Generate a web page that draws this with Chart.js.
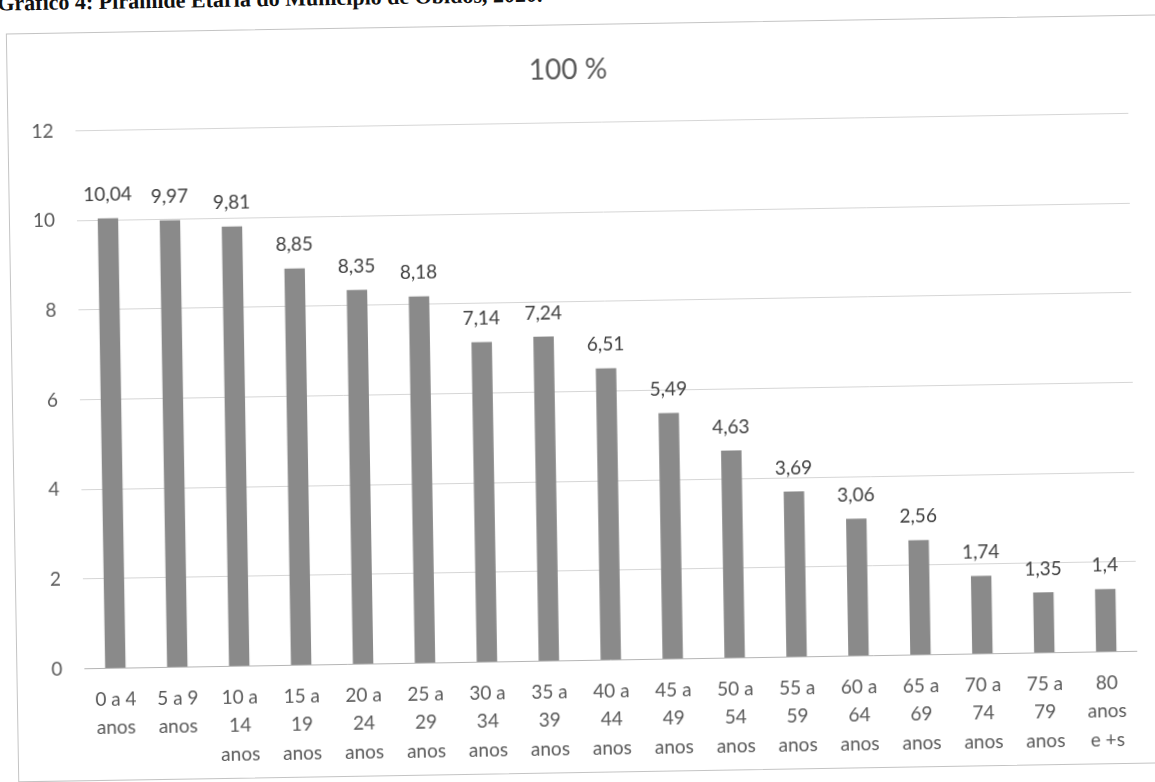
<!DOCTYPE html>
<html>
<head>
<meta charset="utf-8">
<script src="https://cdn.jsdelivr.net/npm/chart.js@4.4.0/dist/chart.umd.min.js"></script>
<style>
  body { margin: 0; background: #fff; width: 1155px; height: 782px; overflow: hidden; position: relative; }
  /* a página digitalizada está ligeiramente inclinada */
  #page { position: absolute; left: 0; top: 0; width: 1155px; height: 782px; transform: rotate(-0.95deg); transform-origin: 580px 400px; }
  #caption { position: absolute; left: 4px; top: -19px; font-family: "Liberation Serif", serif; font-weight: bold; font-size: 22px; color: #111; white-space: nowrap; }
  #box { position: absolute; left: 12px; top: 24px; width: 1160px; height: 749px; border: 1px solid #c4c4c4; box-sizing: border-box; }
  canvas { display: block; }
</style>
</head>
<body>
<div id="page">
  <div id="caption">Gráfico 4: Pirâmide Etária do Município de Óbidos, 2020.</div>
  <div id="box"><canvas id="chart" width="1158" height="747"></canvas></div>
</div>
<script>
// faixas etárias
const categories = [
    ["0 a 4", "anos"], ["5 a 9", "anos"], ["10 a", "14", "anos"], ["15 a", "19", "anos"],
    ["20 a", "24", "anos"], ["25 a", "29", "anos"], ["30 a", "34", "anos"], ["35 a", "39", "anos"],
    ["40 a", "44", "anos"], ["45 a", "49", "anos"], ["50 a", "54", "anos"], ["55 a", "59", "anos"],
    ["60 a", "64", "anos"], ["65 a", "69", "anos"], ["70 a", "74", "anos"], ["75 a", "79", "anos"],
    ["80", "anos", "e +s"]
];
const percentages = [10.04, 9.97, 9.81, 8.85, 8.35, 8.18, 7.14, 7.24, 6.51, 5.49, 4.63, 3.69, 3.06, 2.56, 1.74, 1.35, 1.4];
const yTicks = [0, 2, 4, 6, 8, 10, 12];
const chartTitle = "100 %";

const FONT = "Lato, 'Open Sans', sans-serif";

// rótulos de valor acima das barras (vírgula decimal)
const valueLabels = {
    id: "valueLabels",
    afterDatasetsDraw(chart) {
        const ctx = chart.ctx;
        const meta = chart.getDatasetMeta(0);
        ctx.save();
        ctx.font = "19px " + FONT;
        ctx.fillStyle = "#404040";
        ctx.textAlign = "center";
        ctx.textBaseline = "bottom";
        meta.data.forEach((bar, i) => {
            const txt = String(percentages[i]).replace(".", ",");
            ctx.fillText(txt, bar.x, bar.y - 14);
        });
        ctx.restore();
    }
};

new Chart(document.getElementById("chart"), {
    type: "bar",
    data: {
        labels: categories,
        datasets: [{
            data: percentages,
            backgroundColor: "#8a8a8a",
            borderWidth: 0,
            barPercentage: 0.33,
            categoryPercentage: 1.0,
        }]
    },
    options: {
        responsive: false,
        animation: false,
        layout: { padding: { left: 1, right: 38, top: 10, bottom: 0 } },
        plugins: {
            legend: { display: false },
            tooltip: { enabled: false },
            title: {
                display: true,
                text: chartTitle,
                color: "#595959",
                font: { family: FONT, size: 28, weight: "normal" },
                padding: { top: 18, bottom: 36 }
            }
        },
        scales: {
            y: {
                min: 0,
                max: 12,
                afterBuildTicks: (axis) => { axis.ticks = yTicks.map(v => ({ value: v })); },
                border: { display: false },
                grid: {
                    color: (c) => c.tick && c.tick.value === 0 ? "#b5b5b5" : "#d6d6d6",
                    lineWidth: 1,
                    drawTicks: false
                },
                ticks: { color: "#595959", font: { family: FONT, size: 19 }, padding: 22 }
            },
            x: {
                border: { display: false },
                grid: { display: false },
                ticks: {
                    color: "#595959",
                    font: { family: FONT, size: 19, lineHeight: 1.5 },
                    maxRotation: 0,
                    autoSkip: false,
                    padding: 9
                }
            }
        }
    },
    plugins: [valueLabels]
});
</script>
</body>
</html>
